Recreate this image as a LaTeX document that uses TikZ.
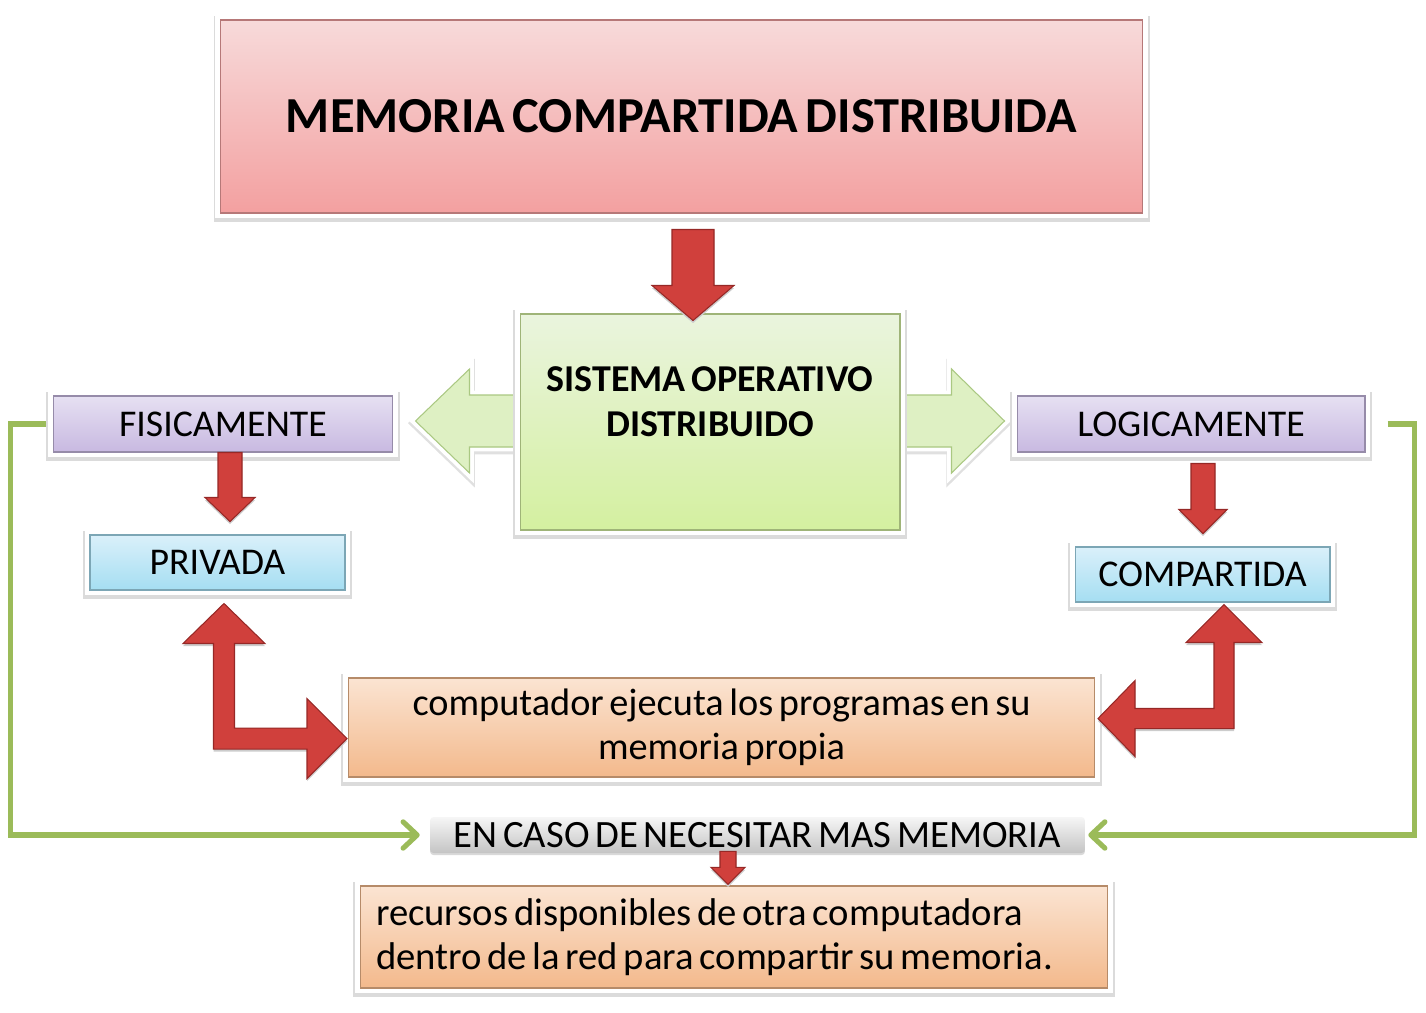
\documentclass[tikz,border=0pt]{standalone}
\usepackage{fontspec}
\setmainfont{Carlito}[WordSpace=0.65]
\usetikzlibrary{positioning,arrows.meta,calc,backgrounds}

\definecolor{rosaA}{RGB}{247,218,218}
\definecolor{rosaB}{RGB}{243,160,160}
\definecolor{verdeA}{RGB}{234,244,222}
\definecolor{verdeB}{RGB}{212,240,160}
\definecolor{lilaA}{RGB}{230,224,242}
\definecolor{lilaB}{RGB}{200,185,225}
\definecolor{celesteA}{RGB}{218,240,250}
\definecolor{celesteB}{RGB}{165,222,242}
\definecolor{naranjaA}{RGB}{251,228,210}
\definecolor{naranjaB}{RGB}{243,185,140}
\definecolor{grisA}{RGB}{246,246,246}
\definecolor{grisB}{RGB}{196,196,196}
\definecolor{rojo}{RGB}{208,64,60}
\definecolor{rojoOsc}{RGB}{150,40,38}
\definecolor{verdeFlecha}{RGB}{222,240,195}
\definecolor{verdeBorde}{RGB}{170,200,130}
\definecolor{verdeLinea}{RGB}{155,187,89}

\begin{document}
\begin{tikzpicture}[
    x=0.02cm, y=-0.02cm,
    caja/.style 2 args={
        rectangle,
        top color=#1, bottom color=#2,
        draw=#2!75!black, line width=0.6pt,
        preaction={draw=black!14, line width=7.5pt, transform canvas={yshift=-1.2pt}},
        preaction={draw=white, line width=5.8pt},
        inner sep=0pt,
        align=center
    },
    etiqueta/.style={font=\fontsize{21.5}{25}\selectfont},
    parrafo/.style={font=\fontsize{21.8}{25}\selectfont},
    flecharoja/.style={
        fill=rojo, draw=rojoOsc, line width=0.6pt, line join=miter,
        preaction={fill=black!20, transform canvas={yshift=-1.5pt}}
    },
    flechaverde/.style={
        fill=verdeFlecha, draw=verdeBorde, line width=0.6pt,
        preaction={draw=black!12, line width=6pt, transform canvas={yshift=-1.2pt}},
        preaction={draw=white, line width=5pt}
    },
    conector/.style={
        draw=verdeLinea, line width=2.9pt,
        -{Straight Barb[length=8pt,width=15pt,round]}
    }
]
\useasboundingbox (0,0) rectangle (1426,1013);

% cajas
\node[caja={rosaA}{rosaB}, minimum width=18.46cm, minimum height=3.86cm,
      font=\fontsize{28.7}{34}\selectfont\bfseries] (titulo) at (681.5,116.5)
    {MEMORIA COMPARTIDA DISTRIBUIDA};
\node[caja={verdeA}{verdeB}, minimum width=7.6cm, minimum height=4.32cm] (so) at (710,422) {};
\node[font=\fontsize{21.6}{25.6}\selectfont\bfseries, align=center] (sotexto)
    at ([yshift=0.4cm]so.center) {SISTEMA OPERATIVO\\DISTRIBUIDO};

\node[caja={lilaA}{lilaB}, etiqueta, minimum width=6.8cm, minimum height=1.12cm] (fisica) at (223,424) {FISICAMENTE};
\node[caja={lilaA}{lilaB}, etiqueta, minimum width=6.96cm, minimum height=1.12cm] (logica) at (1191,424) {LOGICAMENTE};
\node[caja={celesteA}{celesteB}, etiqueta, minimum width=5.1cm, minimum height=1.1cm] (privada) at (217.5,562.5) {PRIVADA};
\node[caja={celesteA}{celesteB}, etiqueta, minimum width=5.1cm, minimum height=1.1cm] (compartida) at (1202.5,574.5) {COMPARTIDA};

\node[caja={naranjaA}{naranjaB}, parrafo, minimum width=14.94cm, minimum height=1.98cm] (computador) at (721.5,727.5)
    {computador ejecuta los programas en su\\memoria propia};

\node[rectangle, rounded corners=2pt, top color=grisA, bottom color=grisB,
      preaction={fill=black!15, rounded corners=2pt, transform canvas={yshift=-1.2pt}},
      font=\fontsize{22}{25}\selectfont, inner sep=0pt, minimum width=13.1cm, minimum height=0.72cm] (caso) at (757.5,835)
    {EN CASO DE NECESITAR MAS MEMORIA};

\node[caja={naranjaA}{naranjaB}, font=\fontsize{22}{25}\selectfont, align=flush left,
      minimum width=14.96cm, minimum height=2.04cm,
      text width=14.32cm, inner xsep=0.32cm] (recursos) at (734,937)
    {recursos disponibles de otra computadora\\dentro de la red para compartir su memoria.};

% flecha doble verde detras del sistema operativo
\begin{scope}[on background layer]
\filldraw[flechaverde] ($(so.west)+(-104,-1)$) -- ++(54,-52) -- ++(0,26) -- ++(482,0) -- ++(0,-26)
    -- ++(53,52) -- ++(-53,52) -- ++(0,-26) -- ++(-482,0) -- ++(0,26) -- cycle;
\end{scope}

% flechas rojas
\filldraw[flecharoja] ($(titulo.south)+(-9.5,16)$) -- ++(0,56) -- ++(-20,0) -- ++(41,35)
    -- ++(41,-35) -- ++(-20,0) -- ++(0,-56) -- cycle;
\filldraw[flecharoja] ($(fisica.south)+(-5,0)$) -- ++(0,45) -- ++(-13,0) -- ++(25,24)
    -- ++(25,-24) -- ++(-13,0) -- ++(0,-45) -- cycle;
\filldraw[flecharoja] ($(logica.south)+(0,11)$) -- ++(0,46) -- ++(-12,0) -- ++(24,24)
    -- ++(24,-24) -- ++(-12,0) -- ++(0,-46) -- cycle;
\filldraw[flecharoja] ($(caso.south)+(-37.5,-2)$) -- ++(0,16) -- ++(-9,0) -- ++(17,17)
    -- ++(17,-17) -- ++(-9,0) -- ++(0,-16) -- cycle;

% flechas en L
\filldraw[flecharoja] ($(privada.south)+(6.5,13)$) -- ++(41,40) -- ++(-30.5,0) -- ++(0,84.5)
    -- ++(72.5,0) -- ++(0,-29.5) -- ++(40,40) -- ++(-40,40) -- ++(0,-29.5)
    -- ++(-93.5,0) -- ++(0,-105.5) -- ++(-30.5,0) -- cycle;
\filldraw[flecharoja] ($(compartida.south)+(21.5,2)$) -- ++(38,38) -- ++(-28,0) -- ++(0,86)
    -- ++(-99,0) -- ++(0,28) -- ++(-37,-38) -- ++(37,-38) -- ++(0,28)
    -- ++(79,0) -- ++(0,-66) -- ++(-28,0) -- cycle;

% conectores verdes
\draw[conector] ([xshift=-0.14cm]fisica.west) -- ++(-35,0) |- ([xshift=-0.2cm]caso.west);
\draw[conector] ([xshift=0.44cm]logica.east) -- ++(27,0) |- ([xshift=0.06cm]caso.east);

\end{tikzpicture}
\end{document}
